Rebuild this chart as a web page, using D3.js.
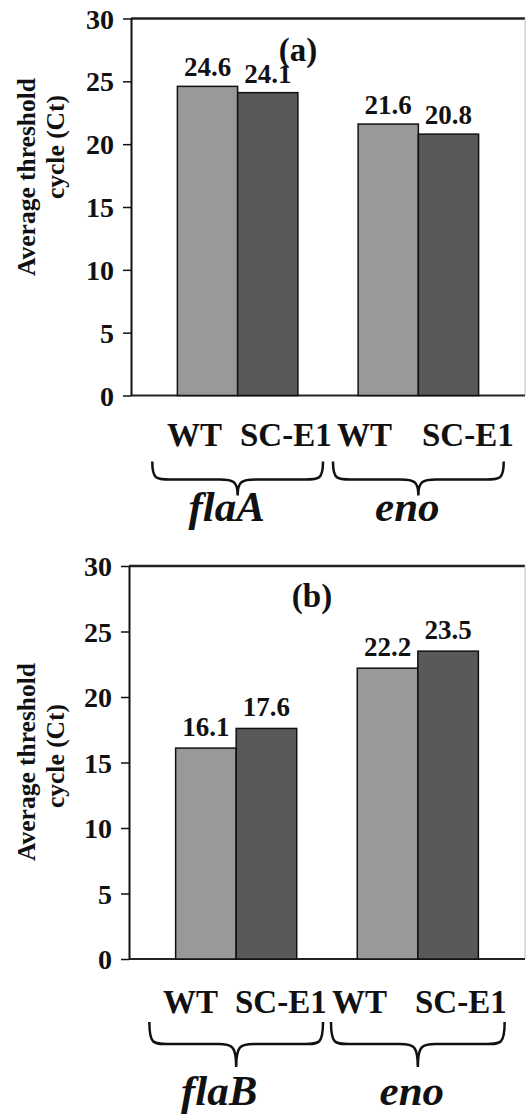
<!DOCTYPE html>
<html>
<head>
<meta charset="utf-8">
<script src="https://cdn.jsdelivr.net/npm/d3@7"></script>
<style>
    body { margin: 0; background: #fff; }
    text { font-family: "Liberation Serif", "Times New Roman", serif; font-weight: bold; fill: #111; }
</style>
</head>
<body>
<div id="chart"></div>
<script>
// values
const strains = ["WT", "SC-E1"];
const genesA = ["flaA", "eno"];
const genesB = ["flaB", "eno"];
const ctA = [[24.6, 24.1], [21.6, 20.8]];
const ctB = [[16.1, 17.6], [22.2, 23.5]];
const yTicks = [0, 5, 10, 15, 20, 25, 30];
const yLines = ["Average threshold", "cycle (Ct)"];

let width = 526;
let height = 1114;
let colors = ["#999999", "#595959"];

let svg = d3.select("#chart")
    .append("svg")
    .attr("width", width)
    .attr("height", height);

function drawPanel(genes, values, p) {
    let g = svg.append("g");

    let y = d3.scaleLinear()
        .domain([0, 30])
        .range([p.bottom, p.top]);
    let x0 = d3.scaleBand()
        .domain(genes)
        .range([p.left, p.right])
        .paddingInner(0)
        .paddingOuter(0.09);
    let x1 = d3.scaleBand()
        .domain(strains)
        .range([0, x0.bandwidth()])
        .paddingInner(0)
        .paddingOuter(0.5);

    // frame
    g.append("line")
        .attr("x1", p.left).attr("x2", p.right)
        .attr("y1", p.top).attr("y2", p.top)
        .attr("stroke", "#222").attr("stroke-width", 2.5);
    g.append("line")
        .attr("x1", p.right).attr("x2", p.right)
        .attr("y1", p.top).attr("y2", p.bottom)
        .attr("stroke", "#bbb").attr("stroke-width", 1);
    g.append("line")
        .attr("x1", p.left).attr("x2", p.right)
        .attr("y1", p.bottom).attr("y2", p.bottom)
        .attr("stroke", "#222").attr("stroke-width", 2);

    let yAxis = g.append("g")
        .attr("transform", "translate(" + p.left + ",0)")
        .call(d3.axisLeft(y).tickValues(yTicks).tickSize(8).tickSizeOuter(0).tickPadding(9));
    yAxis.select(".domain").attr("stroke", "#111").attr("stroke-width", 2);
    yAxis.selectAll(".tick line").attr("stroke", "#111").attr("stroke-width", 1.5);
    yAxis.selectAll(".tick text")
        .style("font-family", "'Liberation Serif', serif")
        .style("font-weight", "bold")
        .style("font-size", "28px")
        .attr("fill", "#111")
        .attr("dy", "0.34em");

    // bars
    genes.forEach(function (gene, i) {
        strains.forEach(function (s, j) {
            let v = values[i][j];
            let bx = x0(gene) + x1(s);
            g.append("rect")
                .attr("x", bx)
                .attr("y", y(v))
                .attr("width", x1.bandwidth())
                .attr("height", y(0) - y(v))
                .attr("fill", colors[j])
                .attr("stroke", "#111")
                .attr("stroke-width", 1.5);
            g.append("text")
                .attr("x", bx + x1.bandwidth() / 2)
                .attr("y", y(v) - p.labelGap)
                .attr("text-anchor", "middle")
                .style("font-size", "27px")
                .text(v.toFixed(1));
            // strain label under the axis
            g.append("text")
                .attr("x", p.stripX[i * 2 + j])
                .attr("y", p.bottom + p.stripY)
                .style("font-size", "33px")
                .text(s);
        });

        // brace under each gene group
        let bl = x0(gene) + p.braceInset;
        let br = x0(gene) + x0.bandwidth() - p.braceInset;
        let bm = x0(gene) + x0.bandwidth() / 2;
        let yt = p.bottom + p.brace[0], ym = p.bottom + p.brace[1], yb = p.bottom + p.brace[2];
        let r = 18;
        let path = d3.path();
        path.moveTo(bl, yt);
        path.bezierCurveTo(bl, ym, bl + 4, ym, bl + r, ym);
        path.lineTo(bm - r, ym);
        path.bezierCurveTo(bm - 4, ym, bm, ym + 2, bm, yb);
        path.moveTo(bm, yb);
        path.bezierCurveTo(bm, ym + 2, bm + 4, ym, bm + r, ym);
        path.lineTo(br - r, ym);
        path.bezierCurveTo(br - 4, ym, br, ym, br, yt);
        g.append("path")
            .attr("d", path.toString())
            .attr("fill", "none")
            .attr("stroke", "#111")
            .attr("stroke-width", 2.5);

        g.append("text")
            .attr("x", bm + p.geneShift[i])
            .attr("y", p.bottom + p.geneY)
            .attr("text-anchor", "middle")
            .style("font-size", "43px")
            .style("font-style", "italic")
            .text(gene);
    });

    // y label, two lines
    yLines.forEach(function (line, k) {
        g.append("text")
            .attr("transform", "translate(" + p.yLab[k][0] + "," + p.yLab[k][1] + ") rotate(-90)")
            .attr("text-anchor", "middle")
            .style("font-size", "25.5px")
            .text(line);
    });

    g.append("text")
        .attr("x", p.letter[0])
        .attr("y", p.letter[1])
        .attr("text-anchor", "middle")
        .style("font-size", "33px")
        .text(p.name);
}

drawPanel(genesA, ctA, {
    name: "(a)", left: 131, right: 525, top: 18.5, bottom: 395.5,
    labelGap: 10, braceInset: 5, brace: [66, 84, 100], geneY: 125, geneShift: [-11, -11],
    stripX: [167, 240, 337, 422], stripY: 50, yLab: [[35, 177], [64, 147]], letter: [298, 61]
});
drawPanel(genesB, ctB, {
    name: "(b)", left: 129, right: 525, top: 566, bottom: 959,
    labelGap: 12, braceInset: 4, brace: [63, 85, 108], geneY: 146, geneShift: [-17, -6],
    stripX: [163, 235, 332, 415], stripY: 54, yLab: [[35, 762], [64, 756]], letter: [312, 607]
});
</script>
</body>
</html>
